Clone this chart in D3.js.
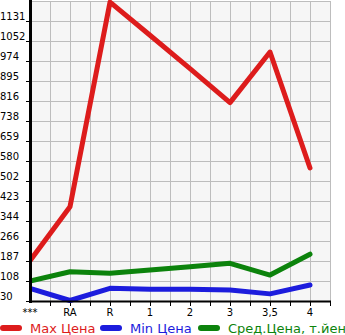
<!DOCTYPE html>
<html>
<head>
<meta charset="utf-8">
<script src="https://cdn.jsdelivr.net/npm/d3@7"></script>
<style>
body { margin: 0; background: #fff; }
svg { display: block; font-family: "DejaVu Sans", sans-serif; }
</style>
</head>
<body>
<svg id="chart"></svg>
<script>
var categories = ["***", "RA", "R", "1", "2", "3", "3,5", "4"];
var maxPrice = [188, 401, 1205, 1075, 944, 810, 1009, 553];
var minPrice = [80, 32, 80, 76, 76, 73, 58, 93];
var avgPrice = [108, 145, 139, 152, 165, 178, 132, 214];
var yTickLabels = ["30", "108", "187", "266", "344", "423", "502", "580", "659", "738", "816", "895", "974", "1052", "1131"];
var legendNames = ["Max Цена", "Min Цена", "Сред.Цена, т.йен"];

var width = 345;
var height = 335;
var plotLeft = 30, plotRight = 330, plotTop = 1, plotBottom = 301;

var svg = d3.select("#chart")
            .attr("width", width)
            .attr("height", height);

var x = d3.scalePoint()
        .domain(categories)
        .range([plotLeft, plotLeft + 280]);

var step = (1131 - 30) / 14;
var y = d3.scaleLinear()
        .domain([30, 1131 + step])
        .range([plotBottom, plotTop]);

// plot background
svg.append("rect")
    .attr("x", plotLeft).attr("y", plotTop)
    .attr("width", plotRight - plotLeft).attr("height", plotBottom - plotTop)
    .attr("fill", "#f6f6f6");

// grid
var yVals = yTickLabels.map(function(d) { return +d; });
svg.append("g").selectAll("line")
    .data(yVals.concat([1131 + step]))
    .join("line")
    .attr("x1", plotLeft).attr("x2", plotRight)
    .attr("y1", function(d) { return Math.round(y(d)) + 0.5; })
    .attr("y2", function(d) { return Math.round(y(d)) + 0.5; })
    .attr("stroke", "#bdbdbd")
    .attr("stroke-width", 1);

var xGrid = d3.range(plotLeft + 20, plotRight + 1, 20);
svg.append("g").selectAll("line")
    .data(xGrid)
    .join("line")
    .attr("x1", function(d) { return d + 0.5; })
    .attr("x2", function(d) { return d + 0.5; })
    .attr("y1", plotTop).attr("y2", plotBottom)
    .attr("stroke", "#bdbdbd")
    .attr("stroke-width", 1);

// y ticks + labels
svg.append("g").selectAll("line")
    .data(yVals)
    .join("line")
    .attr("x1", plotLeft - 4).attr("x2", plotLeft)
    .attr("y1", function(d) { return Math.round(y(d)) + 0.5; })
    .attr("y2", function(d) { return Math.round(y(d)) + 0.5; })
    .attr("stroke", "#000");

svg.append("g").selectAll("text")
    .data(yTickLabels)
    .join("text")
    .attr("x", 0)
    .attr("y", function(d) { return Math.round(y(+d)) - 1; })
    .attr("font-size", 10)
    .attr("fill", "#000")
    .text(function(d) { return d; });

// x ticks + labels
svg.append("g").selectAll("line")
    .data(xGrid)
    .join("line")
    .attr("x1", function(d) { return d + 0.5; })
    .attr("x2", function(d) { return d + 0.5; })
    .attr("y1", plotBottom).attr("y2", plotBottom + 5)
    .attr("stroke", "#000");

svg.append("g").selectAll("text")
    .data(categories)
    .join("text")
    .attr("x", function(d) { return x(d); })
    .attr("y", 316)
    .attr("text-anchor", "middle")
    .attr("font-size", 10)
    .attr("fill", "#000")
    .text(function(d) { return d; });

// series
var colors = ["#dd1c1c", "#1c1cdd", "#0c830c"];
var series = [maxPrice, minPrice, avgPrice];

var line = d3.line()
        .x(function(d, i) { return x(categories[i]); })
        .y(function(d) { return y(d); });

svg.append("clipPath").attr("id", "plotclip")
    .append("rect")
    .attr("x", plotLeft).attr("y", 0)
    .attr("width", plotRight - plotLeft + 5).attr("height", plotBottom + 3);

var gLines = svg.append("g").attr("clip-path", "url(#plotclip)");
// avg and min first, max on top
[2, 1, 0].forEach(function(k) {
    gLines.append("path")
        .attr("d", line(series[k]))
        .attr("fill", "none")
        .attr("stroke", colors[k])
        .attr("stroke-width", 5)
        .attr("stroke-linejoin", "round")
        .attr("stroke-linecap", "round");
});

// axes lines
svg.append("line")
    .attr("x1", plotLeft + 0.5).attr("x2", plotLeft + 0.5)
    .attr("y1", 0).attr("y2", plotBottom + 2)
    .attr("stroke", "#000").attr("stroke-width", 3);
svg.append("line")
    .attr("x1", plotLeft).attr("x2", plotRight + 1)
    .attr("y1", plotBottom + 0.5).attr("y2", plotBottom + 0.5)
    .attr("stroke", "#000").attr("stroke-width", 2);

// legend
var legendX = [0, 100, 198];
var lg = svg.append("g").selectAll("g")
    .data(legendNames)
    .join("g")
    .attr("transform", function(d, i) { return "translate(" + legendX[i] + ",328)"; });

lg.append("line")
    .attr("x1", 3).attr("x2", 19)
    .attr("y1", 0).attr("y2", 0)
    .attr("stroke", function(d, i) { return colors[i]; })
    .attr("stroke-width", 6)
    .attr("stroke-linecap", "round");

lg.append("text")
    .attr("x", 30)
    .attr("y", 5)
    .attr("font-size", 13)
    .attr("fill", function(d, i) { return colors[i]; })
    .text(function(d) { return d; });
</script>
</body>
</html>
